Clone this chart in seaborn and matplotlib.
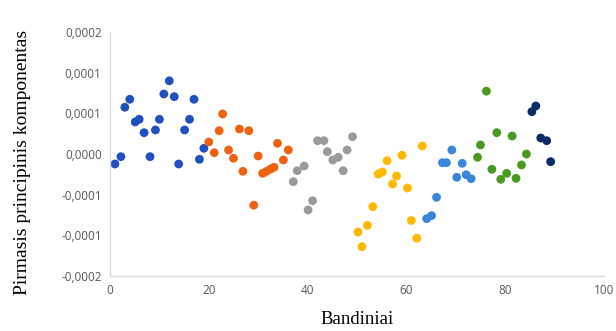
import matplotlib
matplotlib.use("Agg")
import matplotlib.pyplot as plt
import seaborn as sns
import pandas as pd

# Data (y in units of 1e-5)
blue_x = [1.0, 2.2, 3.0, 4.0, 5.1, 5.9, 6.9, 8.1, 9.2, 10.0, 10.9, 12.0, 13.0, 13.9, 15.1, 16.1, 17.0, 18.1, 19.0]
blue_y = [-1.64, -0.44, 7.66, 8.97, 5.25, 5.69, 3.49, -0.44, 3.94, 5.69, 9.84, 12.0, 9.4, -1.64, 3.94, 5.69, 8.97, -0.87, 0.93]

orange_x = [20.0, 21.1, 22.1, 22.8, 24.0, 25.0, 26.2, 26.9, 28.1, 29.1, 30.0, 30.9, 31.7, 32.5, 33.2, 33.9, 35.1, 36.1]
orange_y = [1.97, 0.21, 3.82, 6.56, 0.66, -0.70, 4.10, -2.84, 3.82, -8.40, -0.33, -3.17, -2.84, -2.46, -2.18, 1.75, -0.98, 0.66]

gray_x = [37.1, 37.9, 39.3, 40.1, 41.0, 42.0, 43.3, 44.0, 45.1, 46.2, 47.2, 48.0, 49.1]
gray_y = [-4.54, -2.74, -1.97, -9.18, -7.66, 2.18, 2.18, 0.38, -0.98, -0.54, -2.74, 0.66, 2.84]

yellow_x = [50.2, 51.0, 52.1, 53.2, 54.3, 55.1, 56.1, 57.2, 58.0, 59.1, 60.2, 61.0, 62.1, 63.2]
yellow_y = [-12.8, -15.2, -11.7, -8.64, -3.28, -2.95, -1.10, -4.92, -3.61, -0.21, -5.58, -10.9, -13.8, 1.31]

lblue_x = [64.1, 65.1, 66.1, 67.3, 68.1, 69.2, 70.2, 71.3, 72.1, 73.1]
lblue_y = [-10.6, -10.1, -7.10, -1.43, -1.43, 0.66, -3.82, -1.53, -3.40, -4.05]

green_x = [74.4, 75.0, 76.2, 77.3, 78.3, 79.1, 80.3, 81.4, 82.2, 83.3, 84.3]
green_y = [-0.54, 1.48, 10.3, -2.51, 3.50, -4.15, -3.17, 2.95, -3.99, -1.80, 0.0]

navy_x = [85.4, 86.2, 87.2, 88.4, 89.2]
navy_y = [6.94, 7.87, 2.62, 2.18, -1.26]

groups = ["A", "B", "C", "D", "E", "F", "G"]
colors = ["#1f4fc0", "#f0620f", "#9a9a9a", "#ffb800", "#3a86d8", "#4a9a20", "#0c2a66"]

yticks = [-0.0002, -0.0002 * 2 / 3, -0.0002 / 3, 0.0, 0.0002 / 3, 0.0002 * 2 / 3, 0.0002]
ytick_labels = ["-0,0002", "-0,0001", "-0,0001", "0,0000", "0,0001", "0,0001", "0,0002"]
xticks = [0, 20, 40, 60, 80, 100]

xs = [blue_x, orange_x, gray_x, yellow_x, lblue_x, green_x, navy_x]
ys = [blue_y, orange_y, gray_y, yellow_y, lblue_y, green_y, navy_y]
rows = []
for g, gx, gy in zip(groups, xs, ys):
    for a, b in zip(gx, gy):
        rows.append({"x": a, "y": b * 1e-5, "g": g})
df = pd.DataFrame(rows)

sns.set_style("white")
fig = plt.figure(figsize=(6.16, 3.31), dpi=100)
ax = fig.add_axes([0.1786, 0.1662, 0.9805 - 0.1786, 0.9033 - 0.1662])
sns.scatterplot(data=df, x="x", y="y", hue="g", palette=dict(zip(groups, colors)),
                s=40, edgecolor="none", legend=False, ax=ax)

ax.set_xlim(0, 100)
ax.set_ylim(-0.0002, 0.0002)
ax.set_xticks(xticks)
ax.set_xticklabels([str(t) for t in xticks])
ax.set_yticks(yticks)
ax.set_yticklabels(ytick_labels)
ax.tick_params(axis="both", length=0, labelsize=8.5, colors="#595959", pad=6)
for lab in ax.get_xticklabels() + ax.get_yticklabels():
    lab.set_fontfamily("Open Sans")

for side in ["top", "right"]:
    ax.spines[side].set_visible(False)
for side in ["left", "bottom"]:
    ax.spines[side].set_color("#d9d9d9")
    ax.spines[side].set_linewidth(1.0)

ax.set_xlabel("Bandiniai", fontfamily="Liberation Serif", fontsize=13.5, color="black")
ax.set_ylabel("Pirmasis principinis komponentas", fontfamily="Liberation Serif", fontsize=14,
              color="black")
ax.xaxis.set_label_coords(0.5, -0.145)
ax.yaxis.set_label_coords(-0.16, 0.465)

fig.savefig("out.png", dpi=100)
